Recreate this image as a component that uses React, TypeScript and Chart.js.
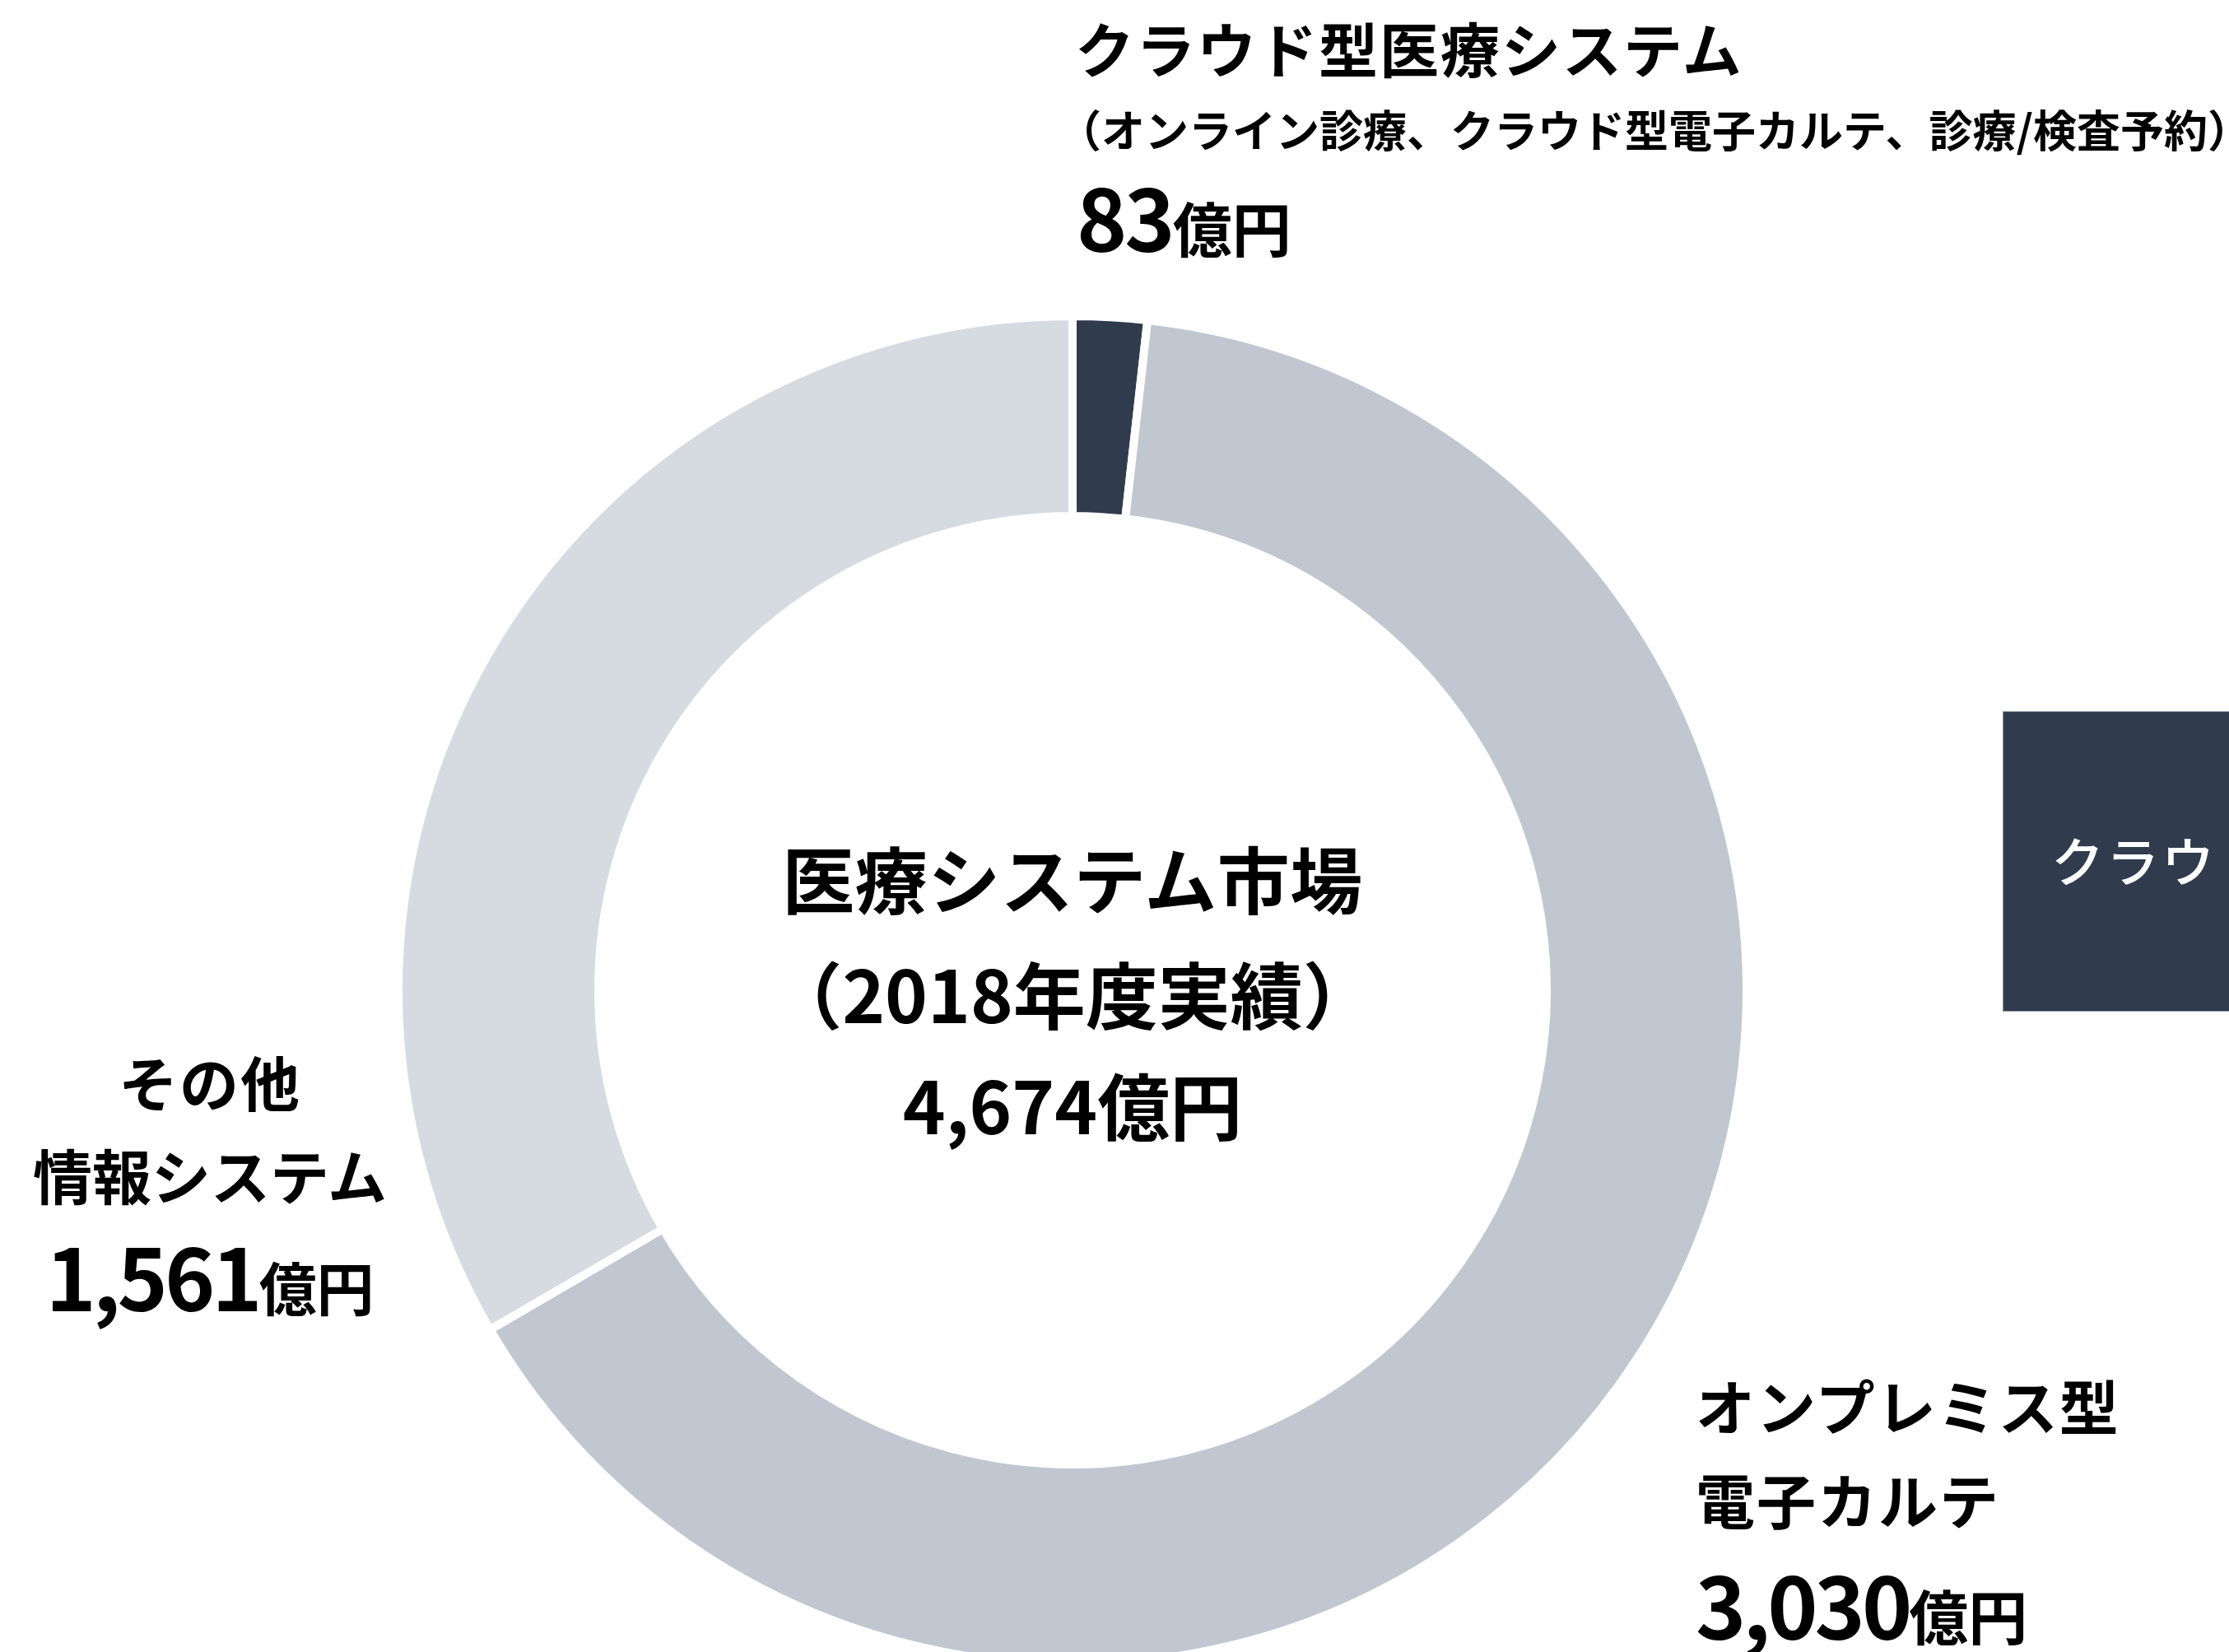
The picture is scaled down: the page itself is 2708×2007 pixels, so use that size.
import React, { useEffect, useRef } from 'react';
import { Chart, registerables } from 'chart.js';

Chart.register(...registerables);

// ---- data ----
const categories = ['クラウド型医療システム', 'オンプレミス型電子カルテ', 'その他情報システム'];
const values = [83, 3030, 1561];
const sliceColors = ['#303c4e', '#c1c7d1', '#d6dae1'];
const unitLabel = '億円';
const centerTitle = '医療システム市場';
const centerPeriod = '（2018年度実績）';
const cloudTitle = 'クラウド型医療システム';
const cloudDetail = '（オンライン診療、クラウド型電子カルテ、診療/検査予約）';
const onpremLines = ['オンプレミス型', '電子カルテ'];
const otherLines = ['その他', '情報システム'];
const panelText = 'クラウド型医療システム';

const W = 2708;
const H = 2007;
const FONT = '"Noto Sans CJK JP", "Noto Sans CJK SC", sans-serif';
const BASE = 0.936; // baseline offset (em) for line-height = 1em

const fmt = (v: number) => v.toLocaleString('en-US');

type LineProps = {
  text?: string;
  num?: string;
  x: number;
  baseline: number;
  size: number;
  unitSize?: number;
  numSpacing?: number;
  align?: 'left' | 'center';
  spacing?: number;
  color?: string;
  weight?: number;
};

function Line({ text, num, x, baseline, size, unitSize, numSpacing = 0, align = 'left', spacing = 0, color = '#000', weight = 700 }: LineProps) {
  const top = baseline - BASE * size;
  const style: React.CSSProperties = {
    position: 'absolute',
    top,
    fontFamily: FONT,
    fontWeight: weight,
    fontSize: size,
    lineHeight: 1,
    color,
    whiteSpace: 'nowrap',
    letterSpacing: spacing,
  };
  if (align === 'center') {
    style.left = x - 600;
    style.width = 1200;
    style.textAlign = 'center';
  } else {
    style.left = x;
  }
  return (
    <div style={style}>
      {num !== undefined ? (
        <>
          <span style={{ letterSpacing: numSpacing }}>{num}</span>
          <span style={{ fontSize: unitSize ?? size, letterSpacing: 0 }}>{unitLabel}</span>
        </>
      ) : (
        text
      )}
    </div>
  );
}

export default function App() {
  const canvasRef = useRef<HTMLCanvasElement | null>(null);

  useEffect(() => {
    document.body.style.margin = '0';
    const canvas = canvasRef.current;
    if (!canvas) return;
    const chart = new Chart(canvas, {
      type: 'doughnut',
      data: {
        labels: categories,
        datasets: [
          {
            data: values,
            backgroundColor: sliceColors,
            borderColor: '#ffffff',
            borderWidth: 10,
            radius: 819,
            cutout: '70.33%',
            clip: false,
          } as any,
        ],
      },
      options: {
        responsive: false,
        animation: false,
        events: [],
        layout: { padding: { left: 0, right: 102, top: 399, bottom: 0 } },
        plugins: {
          legend: { display: false },
          tooltip: { enabled: false },
        },
      },
    });
    return () => chart.destroy();
  }, []);

  const total = values.reduce((a, b) => a + b, 0);

  return (
    <div
      style={{
        position: 'fixed',
        left: 0,
        top: 0,
        width: W,
        height: H,
        overflow: 'hidden',
        background: '#ffffff',
      }}
    >
      <canvas ref={canvasRef} width={W} height={H} style={{ position: 'absolute', left: 0, top: 0, width: W, height: H }} />

      {/* top label: cloud */}
      <Line text={cloudTitle} x={1306} baseline={88} size={72} spacing={2} />
      <Line text={cloudDetail} x={1285} baseline={180} size={53} />
      <Line num={fmt(values[0])} x={1308} baseline={306} size={104} unitSize={72} numSpacing={-3} />

      {/* center */}
      <Line text={centerTitle} x={1303} baseline={1103} size={88} align="center" spacing={0.5} />
      <Line text={centerPeriod} x={1303} baseline={1243} size={88} align="center" />
      <Line num={fmt(total)} x={1303} baseline={1378} size={88} unitSize={88} align="center" />

      {/* left label: other */}
      <Line text={otherLines[0]} x={255} baseline={1344} size={72} spacing={2} align="center" />
      <Line text={otherLines[1]} x={255} baseline={1457} size={72} align="center" />
      <Line num={fmt(values[2])} x={255} baseline={1593} size={104} unitSize={70} numSpacing={-4} align="center" />

      {/* right label: on-premise */}
      <Line text={onpremLines[0]} x={2060} baseline={1737} size={72} spacing={2} />
      <Line text={onpremLines[1]} x={2060} baseline={1851} size={72} spacing={2} />
      <Line num={fmt(values[1])} x={2060} baseline={1992} size={104} unitSize={72} numSpacing={-4} />

      {/* dark panel at right edge */}
      <div
        style={{
          position: 'absolute',
          left: 2433,
          top: 864,
          width: 320,
          height: 365,
          boxSizing: 'border-box',
          background: '#303c4e',
          border: '1px solid #8c95a3',
          overflow: 'hidden',
        }}
      >
        <Line text={panelText} x={58} baseline={206} size={64} spacing={3} color="#ffffff" weight={500} />
      </div>
    </div>
  );
}
